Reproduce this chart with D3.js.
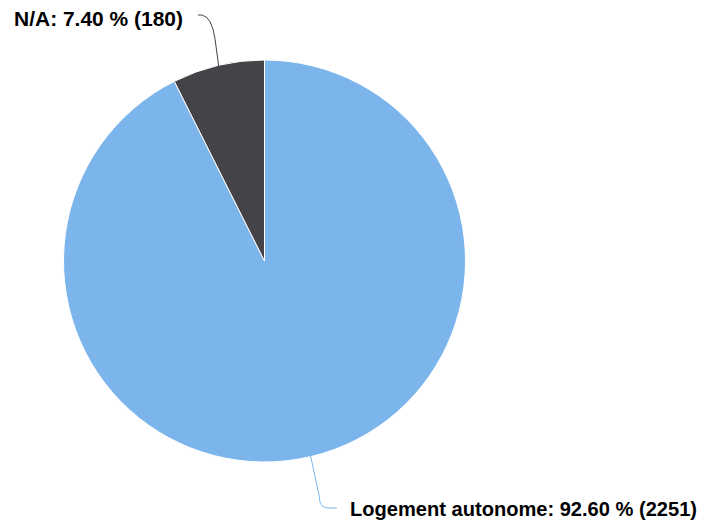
<!DOCTYPE html>
<html>
<head>
<meta charset="utf-8">
<script src="https://cdn.jsdelivr.net/npm/d3@7"></script>
<style>
  body { margin: 0; background: #fff; }
  svg { display: block; }
  .lbl { font-family: "Liberation Sans", Arial, sans-serif; font-weight: bold; fill: #000;
         paint-order: stroke; stroke: #fff; stroke-width: 2px; stroke-linejoin: round; }
</style>
</head>
<body>
<svg id="chart" width="701" height="524"></svg>
<script>
// data
const categories = ["Logement autonome", "N/A"];
const counts = [2251, 180];
const percents = [92.60, 7.40];
const colors = ["#7cb5ec", "#434348"];

const svg = d3.select("#chart");
const cx = 264.5, cy = 261, r = 201;

const pie = d3.pie().sort(null).value(d => d.count);
const slices = pie(categories.map((c, i) => ({ name: c, count: counts[i], pct: percents[i], color: colors[i] })));

const arc = d3.arc().innerRadius(0).outerRadius(r);
const edge = d3.arc().innerRadius(r - 4).outerRadius(r - 4);

const g = svg.append("g").attr("transform", `translate(${cx},${cy})`);

g.selectAll("path.slice")
  .data(slices)
  .enter().append("path")
  .attr("class", "slice")
  .attr("d", arc)
  .attr("fill", d => d.data.color)
  .attr("stroke", "#fff")
  .attr("stroke-width", 1);

// label placement (absolute coords), one per slice
const labelPos = [
  { x: 350, y: 516, anchor: "start", conn: [331, 508], width: 347 },
  { x: 183, y: 26, anchor: "end", conn: [198, 15], width: 169 }
];

slices.forEach((d, i) => {
  const p = edge.centroid(d);
  const ex = cx + p[0], ey = cy + p[1];
  const lp = labelPos[i];
  const path = d3.path();
  if (lp.y > cy) {
    path.moveTo(ex, ey);
    path.lineTo(ex + (lp.conn[0] - ex) * 0.45, ey + (lp.conn[1] - ey) * 0.8);
    path.quadraticCurveTo(lp.conn[0] - 12, lp.conn[1] + 1, lp.conn[0], lp.conn[1]);
    path.lineTo(lp.conn[0] + 6, lp.conn[1]);
  } else {
    path.moveTo(lp.conn[0], lp.conn[1]);
    path.lineTo(lp.conn[0] + 4, lp.conn[1]);
    path.quadraticCurveTo(lp.conn[0] + 14, lp.conn[1] + 2, ex - 4, ey - 30);
    path.lineTo(ex, ey);
  }
  svg.append("path")
    .attr("d", path.toString())
    .attr("fill", "none")
    .attr("stroke", d.data.color)
    .attr("stroke-width", 1);

  const t = svg.append("text")
    .attr("class", "lbl")
    .attr("x", lp.x)
    .attr("y", lp.y)
    .attr("text-anchor", lp.anchor)
    .style("font-size", "17px")
    .text(`${d.data.name}: ${d.data.pct.toFixed(2)} % (${d.data.count})`);
  const w = t.node().getComputedTextLength();
  t.style("font-size", (17 * lp.width / w).toFixed(2) + "px");
});
</script>
</body>
</html>
